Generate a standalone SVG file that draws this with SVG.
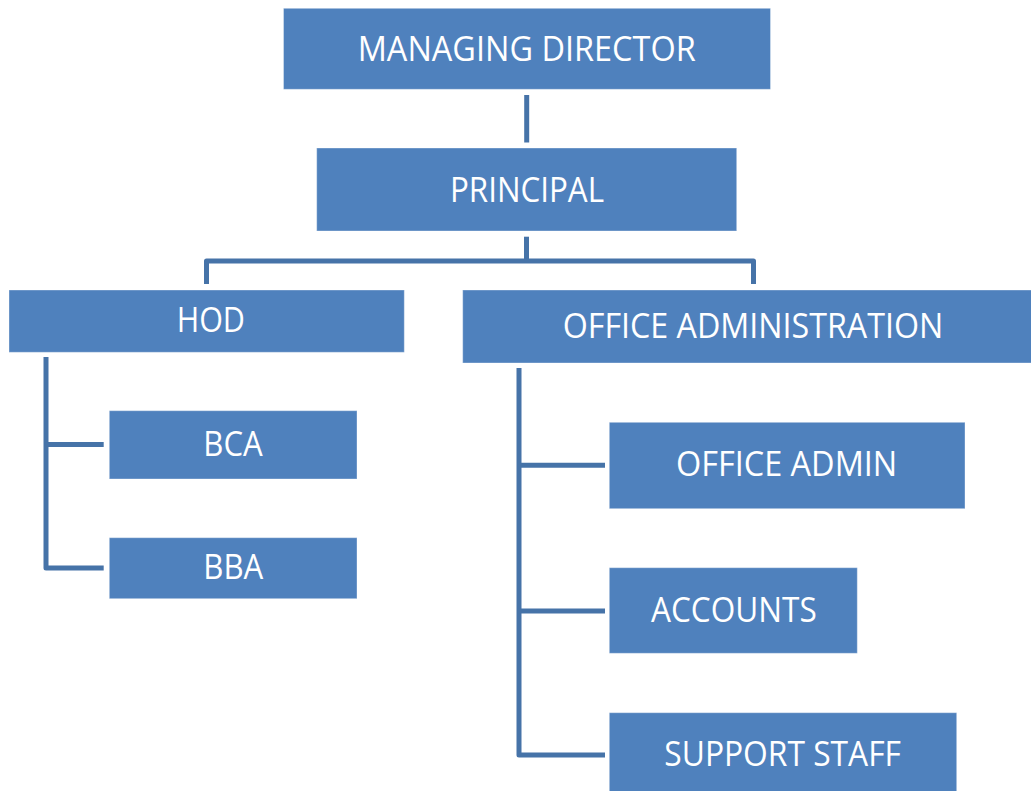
<svg xmlns="http://www.w3.org/2000/svg" width="1031" height="791" viewBox="0 0 1031 791">
  <style>
    .box { fill: #4F81BD; stroke: #FFFFFF; stroke-opacity: 0.35; stroke-width: 1; }
    .lbl { fill: #FFFFFF; font-family: "Open Sans", "Noto Sans", "Liberation Sans", sans-serif; font-size: 35px; }
    .conn { fill: none; stroke: #4673A8; stroke-width: 5; stroke-linejoin: round; stroke-linecap: butt; }
  </style>
  <rect width="1031" height="791" fill="#FFFFFF"/>
  <g id="connectors">
    <path class="conn" d="M526.7 95 V142.5"/>
    <path class="conn" d="M526.5 236.7 V261"/>
    <path class="conn" d="M206.5 284 V261 H753.5 V284"/>
    <path class="conn" d="M46 357 V568 H103.7"/>
    <path class="conn" d="M46 444.5 H103.7"/>
    <path class="conn" d="M519 368 V755 H605"/>
    <path class="conn" d="M519 465.3 H605"/>
    <path class="conn" d="M519 611 H605"/>
  </g>
  <g id="managing-director">
    <rect class="box" x="283.5" y="8.3" width="487" height="81"/>
    <text class="lbl" x="357.7" y="61" textLength="338" lengthAdjust="spacingAndGlyphs">MANAGING DIRECTOR</text>
  </g>
  <g id="principal">
    <rect class="box" x="316.7" y="148" width="420" height="83"/>
    <text class="lbl" x="450" y="201.7" textLength="154" lengthAdjust="spacingAndGlyphs">PRINCIPAL</text>
  </g>
  <g id="hod">
    <rect class="box" x="9" y="290" width="395.3" height="62.3"/>
    <text class="lbl" x="176.7" y="331.7" textLength="68.3" lengthAdjust="spacingAndGlyphs">HOD</text>
  </g>
  <g id="bca">
    <rect class="box" x="109.3" y="410.7" width="247.7" height="68.3"/>
    <text class="lbl" x="203.3" y="456" textLength="59.4" lengthAdjust="spacingAndGlyphs">BCA</text>
  </g>
  <g id="bba">
    <rect class="box" x="109.3" y="537.7" width="247.7" height="61"/>
    <text class="lbl" x="203.3" y="578.7" textLength="60" lengthAdjust="spacingAndGlyphs">BBA</text>
  </g>
  <g id="office-administration">
    <rect class="box" x="462.7" y="290" width="575" height="73"/>
    <text class="lbl" x="562.7" y="338.3" textLength="380.6" lengthAdjust="spacingAndGlyphs">OFFICE ADMINISTRATION</text>
  </g>
  <g id="office-admin">
    <rect class="box" x="609.3" y="422.3" width="355.7" height="86.4"/>
    <text class="lbl" x="676" y="476" textLength="221.3" lengthAdjust="spacingAndGlyphs">OFFICE ADMIN</text>
  </g>
  <g id="accounts">
    <rect class="box" x="609.3" y="567.7" width="248" height="85.6"/>
    <text class="lbl" x="651" y="621.7" textLength="165.7" lengthAdjust="spacingAndGlyphs">ACCOUNTS</text>
  </g>
  <g id="support-staff">
    <rect class="box" x="609.3" y="712.7" width="347.4" height="90"/>
    <text class="lbl" x="664.3" y="766" textLength="236.7" lengthAdjust="spacingAndGlyphs">SUPPORT STAFF</text>
  </g>
</svg>
